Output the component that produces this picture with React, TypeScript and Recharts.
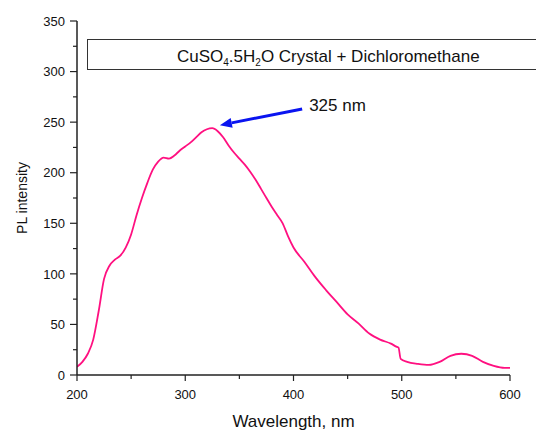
import React from 'react';
import {
  LineChart,
  Line,
  XAxis,
  YAxis,
  ReferenceLine,
  Label,
} from 'recharts';

const wavelengths = [
  200, 205, 210, 215, 220, 225, 230, 235, 240, 245, 250, 255, 260, 265, 270, 275, 280, 285,
  290, 295, 300, 305, 310, 315, 320, 325, 330, 335, 340, 345, 350, 355, 360, 365, 370, 375,
  380, 385, 390, 395, 400, 410, 420, 430, 440, 450, 460, 470, 480, 490, 495, 497, 499, 505,
  515, 525, 535, 545, 555, 565, 575, 585, 595, 600,
];
const intensity = [
  8, 13, 21, 35, 63, 95, 108, 114, 118, 126, 139, 158, 175, 190, 203, 211, 215, 214,
  217, 222, 226, 230, 235, 240, 243, 244, 241, 235, 227, 220, 214, 208, 201, 193, 184, 175,
  166, 158, 150, 137, 126, 112, 97, 84, 72, 60, 51, 41, 35, 31, 28, 27, 16, 13,
  11, 10, 13, 19, 21, 19, 13, 9, 7, 7,
];
const xTicks = [200, 250, 300, 350, 400, 450, 500, 550, 600];
const yTicks = [0, 25, 50, 75, 100, 125, 150, 175, 200, 225, 250, 275, 300, 325, 350];

const peakLabel = '325 nm';
const arrowTail = { x: 408, y: 263 };
const arrowHead = { x: 332, y: 247 };

const data = wavelengths.map((nm, i) => ({ nm, pl: intensity[i] }));

const FONT = '"Liberation Sans", Arial, sans-serif';

const YTick = ({ x, y, payload }: any) => {
  const major = payload.value % 50 === 0;
  return (
    <g>
      <line x1={x} x2={x - (major ? 7 : 4)} y1={y} y2={y} stroke="#222" strokeWidth={1.2} />
      {major && (
        <text x={x - 12} y={y} dy="0.36em" textAnchor="end" style={{ fontSize: 13, fontFamily: FONT }} fill="#111">
          {payload.value}
        </text>
      )}
    </g>
  );
};

const XTick = ({ x, y, payload }: any) => {
  const major = payload.value % 100 === 0;
  return (
    <g>
      <line x1={x} x2={x} y1={y} y2={y + (major ? 6 : 4)} stroke="#222" strokeWidth={1.2} />
      {major && (
        <text x={x} y={y + 24} textAnchor="middle" style={{ fontSize: 13, fontFamily: FONT }} fill="#111">
          {payload.value}
        </text>
      )}
    </g>
  );
};

const Arrow = (props: any) => {
  const { x1, y1, x2, y2 } = props;
  const dx = x2 - x1;
  const dy = y2 - y1;
  const len = Math.sqrt(dx * dx + dy * dy);
  const ux = dx / len;
  const uy = dy / len;
  const hl = 12;
  const hw = 5;
  const bx = x2 - ux * hl;
  const by = y2 - uy * hl;
  return (
    <g>
      <line x1={x1} y1={y1} x2={bx} y2={by} stroke="#0a14f0" strokeWidth={3} />
      <polygon
        points={`${x2},${y2} ${bx - uy * hw},${by + ux * hw} ${bx + uy * hw},${by - ux * hw}`}
        fill="#0a14f0"
      />
      <text x={x1 + 7} y={y1 + 2} style={{ fontSize: 17, fontFamily: FONT }} fill="#111">
        {peakLabel}
      </text>
    </g>
  );
};

export default function App() {
  return (
    <div
      style={{
        position: 'absolute',
        left: 0,
        top: 0,
        width: 536,
        height: 430,
        overflow: 'hidden',
        background: '#fff',
        fontFamily: FONT,
      }}
    >
      <LineChart width={536} height={430} data={data} margin={{ top: 21, right: 26, left: 0, bottom: 0 }}>
        <XAxis
          dataKey="nm"
          type="number"
          domain={[200, 600]}
          ticks={xTicks}
          interval={0}
          height={55}
          tickSize={0}
          tickMargin={0}
          tickLine={false}
          tick={<XTick />}
          axisLine={{ stroke: '#222', strokeWidth: 1.5 }}
          allowDataOverflow
        >
          <Label
            value="Wavelength, nm"
            position="insideBottom"
            offset={3}
            style={{ fontSize: 17, fill: '#111', fontFamily: FONT }}
          />
        </XAxis>
        <YAxis
          type="number"
          domain={[0, 350]}
          ticks={yTicks}
          interval={0}
          width={77}
          tickSize={0}
          tickMargin={0}
          tickLine={false}
          tick={<YTick />}
          axisLine={{ stroke: '#222', strokeWidth: 1.5 }}
          allowDataOverflow
        >
          <Label
            value="PL intensity"
            angle={-90}
            position="insideLeft"
            offset={22}
            style={{ fontSize: 14, fill: '#111', fontFamily: FONT, textAnchor: 'middle' }}
          />
        </YAxis>
        <Line
          type="monotone"
          dataKey="pl"
          stroke="#ff1080"
          strokeWidth={1.8}
          dot={false}
          isAnimationActive={false}
        />
        <ReferenceLine segment={[arrowTail, arrowHead]} shape={<Arrow />} ifOverflow="visible" />
      </LineChart>
      <svg width={536} height={430} style={{ position: 'absolute', left: 0, top: 0, pointerEvents: 'none' }}>
        <rect x={87.5} y={39.5} width={470} height={30} fill="none" stroke="#333" strokeWidth={1} />
        <text x={177} y={62} style={{ fontSize: 17, fontFamily: FONT }} fill="#111">
          CuSO
          <tspan style={{ fontSize: 10 }} dy={4}>4</tspan>
          <tspan dy={-4}>.5H</tspan>
          <tspan style={{ fontSize: 10 }} dy={4}>2</tspan>
          <tspan dy={-4}>O Crystal + Dichloromethane</tspan>
        </text>
      </svg>
    </div>
  );
}
